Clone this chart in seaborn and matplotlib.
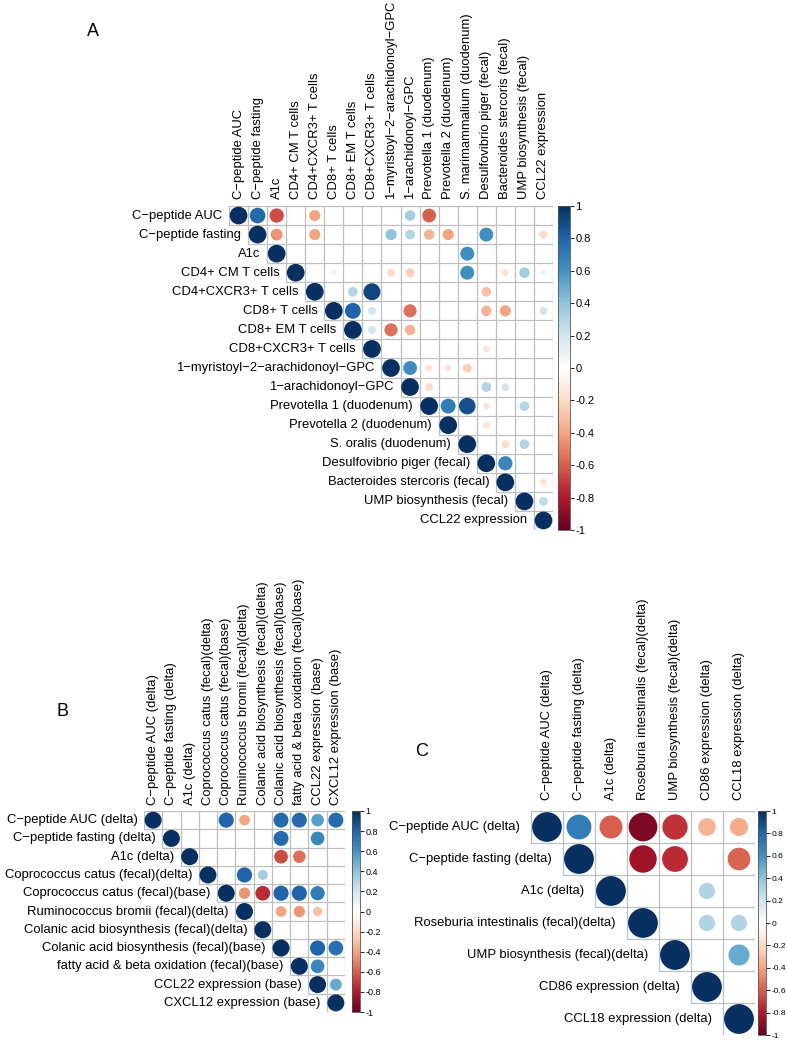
import numpy as np
import pandas as pd
import matplotlib
matplotlib.use("Agg")
import matplotlib.pyplot as plt
import seaborn as sns
from matplotlib.colors import LinearSegmentedColormap, Normalize
from matplotlib.cm import ScalarMappable

nan = np.nan

# ---------------- Panel A ----------------
a_rows = ["C−peptide AUC", "C−peptide fasting", "A1c", "CD4+ CM T cells",
          "CD4+CXCR3+ T cells", "CD8+ T cells", "CD8+ EM T cells",
          "CD8+CXCR3+ T cells", "1−myristoyl−2−arachidonoyl−GPC",
          "1−arachidonoyl−GPC", "Prevotella 1 (duodenum)", "Prevotella 2 (duodenum)",
          "S. oralis (duodenum)", "Desulfovibrio piger (fecal)",
          "Bacteroides stercoris (fecal)", "UMP biosynthesis (fecal)", "CCL22 expression"]
a_cols = a_rows[:12] + ["S. marimammalium (duodenum)"] + a_rows[13:]
# upper triangle, row i holds columns i..n-1 (nan = blank cell)
a_vals = [
    [1, .78, -.65, nan, -.4, nan, nan, nan, nan, .35, -.6, nan, nan, nan, nan, nan, nan],
    [1, -.45, nan, -.4, nan, nan, nan, .4, .3, -.35, -.4, nan, .62, nan, nan, -.2],
    [1, nan, nan, nan, nan, nan, nan, nan, nan, nan, .62, nan, nan, nan, nan],
    [1, nan, .1, nan, nan, -.2, -.25, nan, nan, .62, nan, -.15, .35, .1],
    [1, nan, .3, .92, nan, nan, nan, nan, nan, -.3, nan, nan, nan],
    [1, .8, .2, nan, -.55, nan, nan, nan, -.35, -.4, nan, .2],
    [1, .2, -.55, -.35, nan, nan, nan, nan, nan, nan, nan],
    [1, nan, nan, nan, nan, nan, -.15, nan, nan, nan],
    [1, .62, -.15, -.15, -.25, nan, nan, nan, nan],
    [1, -.2, nan, nan, .3, .2, nan, nan],
    [1, .7, .88, -.15, nan, .3, nan],
    [1, nan, -.15, nan, nan, nan],
    [1, nan, -.2, .3, nan],
    [1, .65, nan, nan],
    [1, nan, -.15],
    [1, .25],
    [1],
]

# ---------------- Panel B ----------------
b_rows = ["C−peptide AUC (delta)", "C−peptide fasting (delta)", "A1c (delta)",
          "Coprococcus catus (fecal)(delta)", "Coprococcus catus (fecal)(base)",
          "Ruminococcus bromii (fecal)(delta)", "Colanic acid biosynthesis (fecal)(delta)",
          "Colanic acid biosynthesis (fecal)(base)", "fatty acid & beta oxidation (fecal)(base)",
          "CCL22 expression (base)", "CXCL12 expression (base)"]
b_cols = b_rows
b_vals = [
    [1, nan, nan, nan, .8, -.4, nan, .78, .78, .55, .78],
    [1, nan, nan, nan, nan, nan, .78, nan, .65, nan],
    [1, nan, nan, nan, nan, -.65, -.55, nan, nan],
    [1, nan, .8, .35, nan, nan, nan, nan],
    [1, -.45, -.75, .8, .8, .7, nan],
    [1, .02, -.4, -.45, -.3, nan],
    [1, nan, nan, nan, nan],
    [1, nan, .8, .75],
    [1, .65, nan],
    [1, .5],
    [1],
]

# ---------------- Panel C ----------------
c_rows = ["C−peptide AUC (delta)", "C−peptide fasting (delta)", "A1c (delta)",
          "Roseburia intestinalis (fecal)(delta)", "UMP biosynthesis (fecal)(delta)",
          "CD86 expression (delta)", "CCL18 expression (delta)"]
c_cols = c_rows
c_vals = [
    [1, .7, -.6, -.93, -.72, -.35, -.37],
    [1, nan, -.85, -.75, nan, -.58],
    [1, nan, nan, .3, nan],
    [1, nan, .3, .3],
    [1, nan, .5],
    [1, nan],
    [1],
]

# corrplot default RdBu ramp
cmap = LinearSegmentedColormap.from_list("corr", [
    "#67001F", "#B2182B", "#D6604D", "#F4A582", "#FDDBC7", "#FFFFFF",
    "#D1E5F0", "#92C5DE", "#4393C3", "#2166AC", "#053061"])
norm = Normalize(-1, 1)

W, H = 787, 1040
plt.rcParams['font.family'] = ['Liberation Sans', 'DejaVu Sans']
fig = plt.figure(figsize=(W / 100, H / 100), dpi=100)


def px_axes(x0, y0, w, h):
    return fig.add_axes([x0 / W, 1 - (y0 + h) / H, w / W, h / H])


def corr_panel(rows, cols, vals, x0, y0, cell, fs, cb_x, cb_w, cb_fs):
    n = len(rows)
    ax = px_axes(x0, y0, cell * n, cell * n)
    recs = []
    for i, rv in enumerate(vals):
        for k, v in enumerate(rv):
            if not np.isnan(v):
                recs.append({"row": i, "col": i + k, "r": v, "absr": abs(v)})
    df = pd.DataFrame(recs)
    smax = (0.93 * cell * 0.72) ** 2
    sns.scatterplot(data=df, x="col", y="row", hue="r", hue_norm=(-1, 1), palette=cmap,
                    size="absr", size_norm=(0, 1), sizes=(0, smax), linewidth=0,
                    legend=False, ax=ax, zorder=3)
    # grid of upper triangle
    for i in range(n + 1):
        ax.hlines(i - 0.5, max(i - 1, 0) - 0.5, n - 0.5, color="#BEBEBE", lw=0.9, zorder=1)
    for j in range(n + 1):
        ax.vlines(j - 0.5, -0.5, min(j, n - 1) + 0.5, color="#BEBEBE", lw=0.9, zorder=1)
    ax.set_xlim(-0.5, n - 0.5)
    ax.set_ylim(n - 0.5, -0.5)
    ax.axis("off")
    for i, lab in enumerate(rows):
        ax.text(i - 0.5 - 0.35, i, lab, ha="right", va="center", fontsize=fs)
    for j, lab in enumerate(cols):
        ax.text(j, -0.5 - 0.35, lab, ha="center", va="bottom", rotation=90, fontsize=fs)
    cax = px_axes(cb_x, y0, cb_w, cell * n)
    cb = fig.colorbar(ScalarMappable(norm=norm, cmap=cmap), cax=cax,
                      ticks=np.linspace(-1, 1, 11))
    cb.ax.set_yticklabels([f"{v:g}" if abs(v) > 1e-9 else "0"
                           for v in np.round(np.linspace(-1, 1, 11), 1)])
    cb.ax.tick_params(labelsize=cb_fs, length=3, width=0.6, pad=1)
    cb.outline.set_linewidth(0.6)
    cb.outline.set_edgecolor("#555555")
    return ax


corr_panel(a_rows, a_cols, a_vals, 229, 206, 324 / 17, 9.4, 558, 12, 8)
corr_panel(b_rows, b_cols, b_vals, 144, 811, 201 / 11, 9.4, 352, 8, 6.5)
corr_panel(c_rows, c_cols, c_vals, 531, 811, 32, 9.4, 758, 8, 6)

fig.text(93 / W, 1 - 32 / H, "A", fontsize=13, ha="center", va="center")
fig.text(62 / W, 1 - 712 / H, "B", fontsize=13, ha="center", va="center")
fig.text(422 / W, 1 - 752 / H, "C", fontsize=13, ha="center", va="center")

fig.savefig("out.png", dpi=100)
